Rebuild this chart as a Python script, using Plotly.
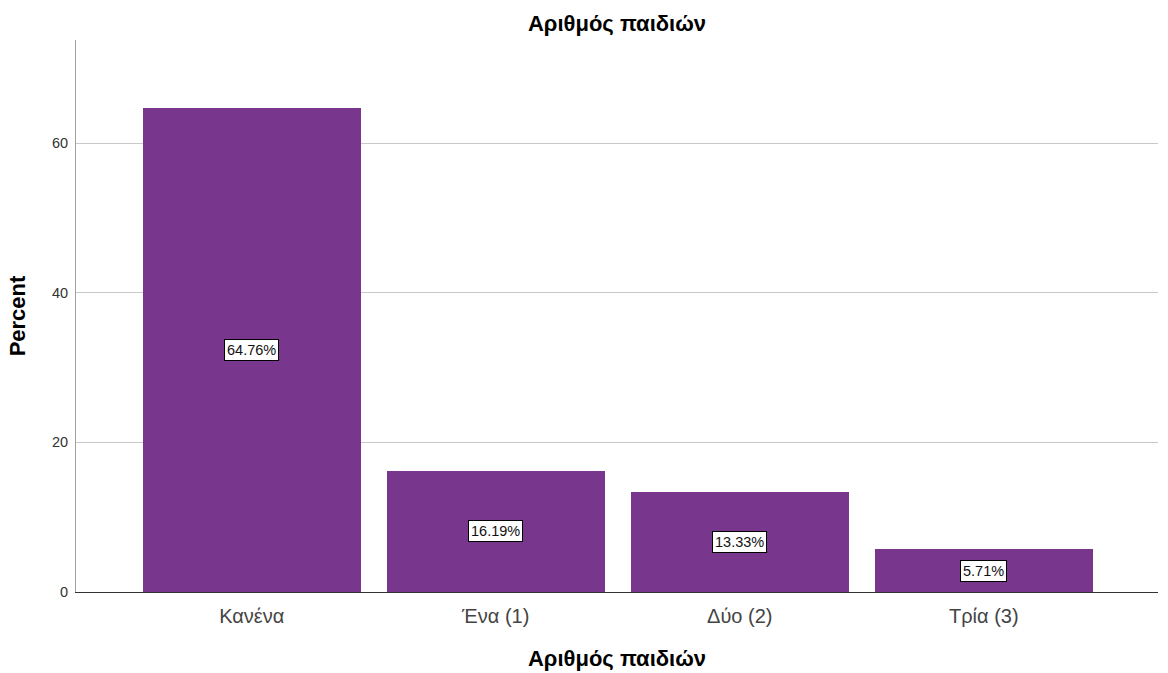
import plotly.graph_objects as go

categories = ["Κανένα", "Ένα (1)", "Δύο (2)", "Τρία (3)"]
percents = [64.76, 16.19, 13.33, 5.71]
labels = ["64.76%", "16.19%", "13.33%", "5.71%"]
y_ticks = [0, 20, 40, 60]

fig = go.Figure()
fig.add_trace(go.Bar(
    x=list(range(len(categories))), y=percents,
    marker=dict(color="#78368C", line=dict(width=0)),
    width=0.893, hoverinfo="skip", showlegend=False,
))

for i, (v, t) in enumerate(zip(percents, labels)):
    fig.add_annotation(
        x=i, y=v / 2, xref="x", yref="y", text=t, showarrow=False,
        font=dict(family="Arial, Liberation Sans", size=14.5, color="#111111"),
        bgcolor="#FFFFFF", bordercolor="#000000", borderwidth=1, borderpad=2,
    )

fig.update_layout(
    width=1168, height=673,
    margin=dict(l=76, r=10, t=40, b=81, autoexpand=False),
    paper_bgcolor="#FFFFFF", plot_bgcolor="#FFFFFF",
    title=dict(text="<b>Αριθμός παιδιών</b>", x=0.5, xref="paper", xanchor="center",
               y=1 - 23 / 673, yref="container", yanchor="middle",
               font=dict(family="Arial, Liberation Sans", size=22, color="#000000")),
    font=dict(family="Arial, Liberation Sans", color="#000000"),
    bargap=0,
)

fig.update_xaxes(
    range=[-0.72, 3.714], automargin=False,
    tickmode="array", tickvals=list(range(len(categories))), ticktext=categories,
    tickfont=dict(family="Arial, Liberation Sans", size=20, color="#444444"),
    showgrid=False, zeroline=False,
    showline=True, linecolor="#333333", linewidth=1,
    ticks="", ticklabelstandoff=6,
    title=dict(text="<b>Αριθμός παιδιών</b>", standoff=24,
               font=dict(family="Arial, Liberation Sans", size=22, color="#000000")),
)
fig.update_yaxes(
    range=[0, 73.8], automargin=False,
    tickmode="array", tickvals=y_ticks,
    tickfont=dict(family="Arial, Liberation Sans", size=14.5, color="#333333"),
    showgrid=True, gridcolor="#C8C8C8", gridwidth=1,
    zeroline=False,
    showline=True, linecolor="#A0A0A0", linewidth=1,
    ticks="", ticklabelstandoff=4,
    title=dict(text="<b>Percent</b>", standoff=20,
               font=dict(family="Arial, Liberation Sans", size=22, color="#000000")),
)

fig.write_html("out.html")
